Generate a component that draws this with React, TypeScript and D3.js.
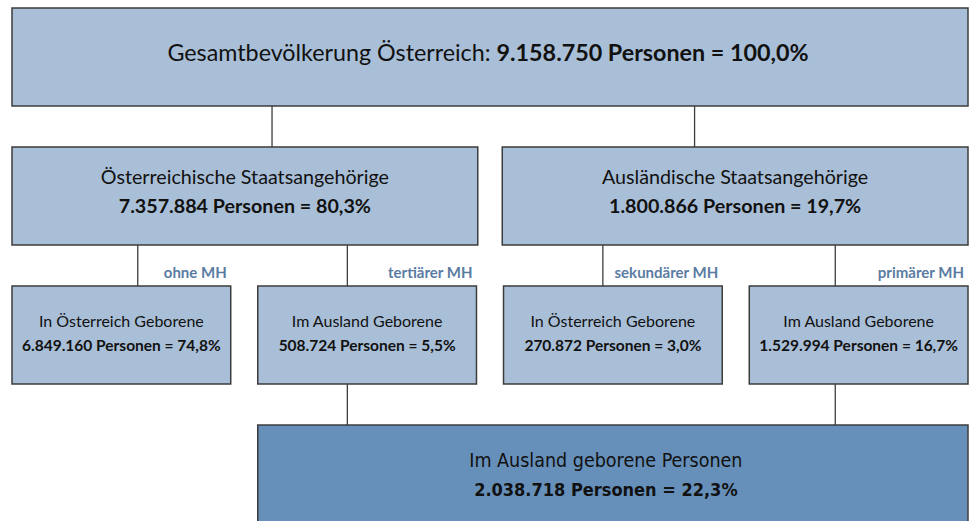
import React from "react";
import * as d3 from "d3";

// ---- data ----
const levels = [0, 1, 1, 2, 2, 2, 2, 3];
const nodeIds = ["total", "aut", "for", "autAut", "autFor", "forAut", "forFor", "bornAbroad"];
const parents = [null, "total", "total", "aut", "aut", "for", "for", null];
const titles = [
  "Gesamtbevölkerung Österreich:",
  "Österreichische Staatsangehörige",
  "Ausländische Staatsangehörige",
  "In Österreich Geborene",
  "Im Ausland Geborene",
  "In Österreich Geborene",
  "Im Ausland Geborene",
  "Im Ausland geborene Personen",
];
const persons = [9158750, 7357884, 1800866, 6849160, 508724, 270872, 1529994, 2038718];
const percents = [100.0, 80.3, 19.7, 74.8, 5.5, 3.0, 16.7, 22.3];
const mhLabels = ["ohne MH", "tertiärer MH", "sekundärer MH", "primärer MH"];
// bottom box gets contributions from these leaves
const mergeSources = ["autFor", "forFor"];

// ---- layout constants ----
const W = 973;
const H = 521;
const X0 = 12;
const X1 = 968;
const LIGHT = "#a9bfd7";
const DARK = "#6690ba";
const STROKE = "#3c3c3c";
const LABEL = "#5a7ca2";
const FONT = "Lato, 'Open Sans', sans-serif";
const NARROW = "'Liberation Sans Narrow', 'DejaVu Sans Condensed', sans-serif";
// connector positions as fraction of parent width
const CONN_FRAC: Record<string, number[]> = {
  total: [0.272, 0.714],
  aut: [0.27, 0.72],
  for: [0.216, 0.715],
};

const loc = d3.formatLocale({ decimal: ",", thousands: ".", grouping: [3], currency: ["", "€"] });
const fmtInt = loc.format(",d");
const fmtPct = loc.format(".1f");

export default function App() {
  const y = d3.scaleBand<number>().domain([0, 1, 2, 3]).range([8, 523]).paddingInner(0.295);
  const x2 = d3.scaleBand<string>().domain(["aut", "for"]).range([X0, X1]).paddingInner(0.05);
  const leafIds = nodeIds.filter((_, i) => levels[i] === 2);
  const x3 = d3.scaleBand<string>().domain(leafIds).range([X0, X1]).paddingInner(0.11);

  const rects = nodeIds.map((id, i) => {
    const lv = levels[i];
    let x = X0, w = X1 - X0;
    if (lv === 1) { x = x2(id)!; w = x2.bandwidth(); }
    if (lv === 2) { x = x3(id)!; w = x3.bandwidth(); }
    if (lv === 3) { x = x3("autFor")!; w = X1 - x; }
    return { id, i, lv, x, y: y(lv)!, w, h: y.bandwidth() };
  });
  const byId: Record<string, any> = {};
  rects.forEach((r) => (byId[r.id] = r));

  const lines: { x: number; y1: number; y2: number }[] = [];
  const connX: Record<string, number> = {};
  ["total", "aut", "for"].forEach((pid) => {
    const p = byId[pid];
    const kids = nodeIds.filter((_, i) => parents[i] === pid);
    kids.forEach((k, j) => {
      const cx = p.x + p.w * CONN_FRAC[pid][j];
      connX[k] = cx;
      lines.push({ x: cx, y1: p.y + p.h, y2: byId[k].y });
    });
  });
  mergeSources.forEach((sid) => {
    const s = byId[sid];
    const b = byId["bornAbroad"];
    lines.push({ x: connX[sid], y1: s.y + s.h, y2: b.y });
  });

  const label = (r: any) => {
    const cx = r.x + r.w / 2;
    const cy = r.y + r.h / 2;
    const num = `${fmtInt(persons[r.i])} Personen = ${fmtPct(percents[r.i])}%`;
    if (r.lv === 0) {
      return (
        <text x={cx - 2} y={cy + 4} textAnchor="middle" fontFamily={FONT} fontSize={23.3} fill="#111">
          {titles[r.i]} <tspan fontWeight="bold">{num}</tspan>
        </text>
      );
    }
    if (r.lv === 1) {
      return (
        <g fontFamily={FONT} fill="#111" textAnchor="middle">
          <text x={cx} y={cy - 12} fontSize={19.7}>{titles[r.i]}</text>
          <text x={cx} y={cy + 17} fontSize={19.7} fontWeight="bold">{num}</text>
        </g>
      );
    }
    if (r.lv === 2) {
      return (
        <g fontFamily={FONT} fill="#111" textAnchor="middle">
          <text x={cx} y={cy - 8} fontSize={16}>{titles[r.i]}</text>
          <text x={cx} y={cy + 16} fontSize={15.5} fontWeight="bold">{num}</text>
        </g>
      );
    }
    const bx = r.x + r.w / 2 - 7;
    const by = r.y + 42;
    return (
      <g fontFamily={NARROW} fill="#111" textAnchor="middle">
        <text x={bx} y={by} fontSize={19.5}>{titles[r.i]}</text>
        <text x={bx} y={by + 29} fontSize={18} fontWeight="bold">{num}</text>
      </g>
    );
  };

  return (
    <svg width={W} height={H} style={{ position: "absolute", left: 0, top: 0, background: "#fff" }}>
      {lines.map((l, k) => (
        <line key={k} x1={l.x} x2={l.x} y1={l.y1} y2={l.y2} stroke={STROKE} strokeWidth={1.3} />
      ))}
      {rects.map((r) => (
        <g key={r.id}>
          <rect x={r.x} y={r.y} width={r.w} height={r.h} fill={r.lv === 3 ? DARK : LIGHT} stroke={STROKE} strokeWidth={1.5} />
          {label(r)}
        </g>
      ))}
      {leafIds.map((id, j) => {
        const r = byId[id];
        return (
          <text key={id} x={r.x + r.w - 4} y={r.y - 8} textAnchor="end" fontFamily={FONT} fontSize={15} fontWeight="bold" fill={LABEL}>
            {mhLabels[j]}
          </text>
        );
      })}
    </svg>
  );
}
